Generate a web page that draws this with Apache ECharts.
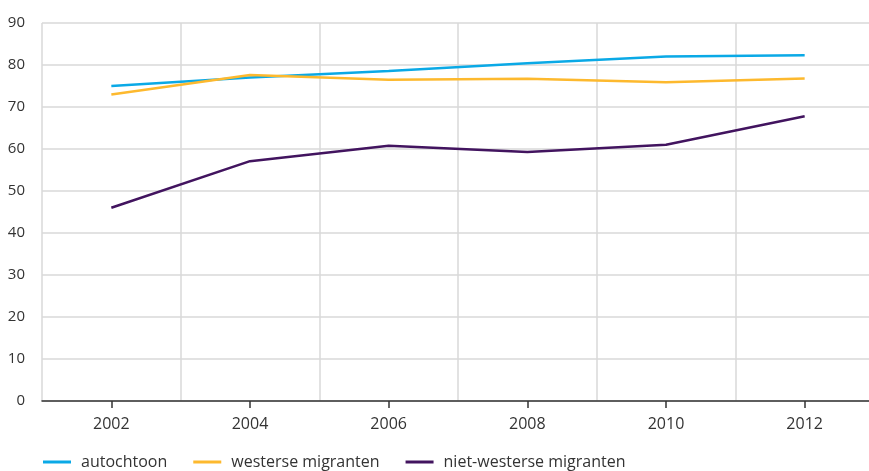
<!DOCTYPE html>
<html><head><meta charset="utf-8">
<script src="https://cdn.jsdelivr.net/npm/echarts@6/dist/echarts.min.js"></script>
<style>html,body{margin:0;padding:0;background:#fff}#c{width:869px;height:471px}</style>
</head><body><div id="c"></div>
<script>
var years = [2002, 2004, 2006, 2008, 2010, 2012];
var autochtoon = [75.0, 77.0, 78.6, 80.4, 82.0, 82.3];
var westerse = [73.0, 77.6, 76.5, 76.7, 75.9, 76.8];
var nietWesterse = [46.0, 57.1, 60.8, 59.3, 61.0, 67.8];
var seriesNames = ['autochtoon', 'westerse migranten', 'niet-westerse migranten'];
var colors = ['#0aa9e6', '#fdb92e', '#42145f'];
var yTicks = [0, 10, 20, 30, 40, 50, 60, 70, 80, 90];

function pairs(vals){ return years.map(function(y,i){ return [y, vals[i]]; }); }
var font = '"Open Sans", "Noto Sans", sans-serif';
var chart = echarts.init(document.getElementById('c'), null, {renderer:'canvas'});
var allVals = [autochtoon, westerse, nietWesterse];
chart.setOption({
  animation: false,
  color: colors,
  grid: {left: 42, top: 23, width: 832, height: 378, containLabel: false, outerBoundsMode: 'none'},
  legend: {
    left: 38, top: 449, itemWidth: 28, itemHeight: 3, itemGap: 26,
    icon: 'rect',
    textStyle: {fontFamily: font, fontSize: 16, color: '#333', padding: [0,0,0,5]},
    data: seriesNames
  },
  xAxis: [{
    type: 'value', min: 2001, max: 2013, interval: 2,
    axisLine: {show: false}, axisTick: {show: false}, axisLabel: {show: false},
    splitLine: {show: true, lineStyle: {color: '#d9d9d9', width: 1.5}}
  }, {
    type: 'value', min: 2001, max: 2013, position: 'bottom',
    axisLine: {show: true, onZero: false, lineStyle: {color: '#333', width: 1.5}},
    axisTick: {show: true, customValues: years, length: 7, lineStyle: {color: '#333', width: 1.5}},
    axisLabel: {show: true, customValues: years, fontFamily: font, fontSize: 16, color: '#333', margin: 15,
      formatter: function(v){ return String(v); }},
    splitLine: {show: false}
  }],
  yAxis: {
    type: 'value', min: 0, max: 90, interval: 10,
    axisLine: {show: false}, axisTick: {show: false},
    axisLabel: {fontFamily: font, fontSize: 15, color: '#333', margin: 17,
      formatter: function(v){ return yTicks.indexOf(v) >= 0 ? String(v) : ''; }},
    splitLine: {show: true, lineStyle: {color: '#d9d9d9', width: 1.5}}
  },
  series: seriesNames.map(function(n, i){
    return {
      name: n, type: 'line', xAxisIndex: 0, data: pairs(allVals[i]),
      showSymbol: false, symbol: 'none',
      lineStyle: {width: 2.5, color: colors[i]}
    };
  })
});
</script></body></html>
